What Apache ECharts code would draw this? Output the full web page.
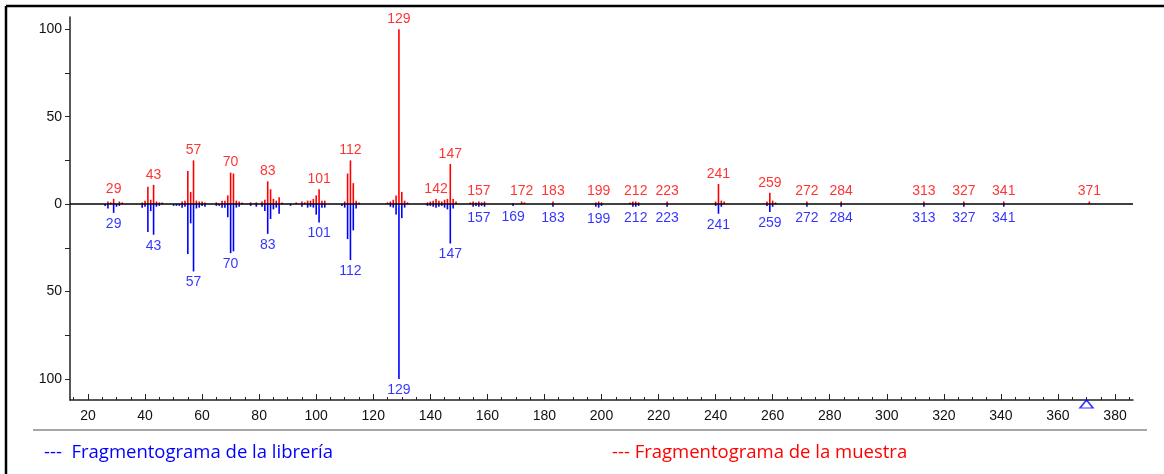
<!DOCTYPE html>
<html>
<head>
<meta charset="utf-8">
<script src="https://cdn.jsdelivr.net/npm/echarts@6/dist/echarts.min.js"></script>
<style>
  html, body { margin: 0; padding: 0; background: #fff; }
  #main { width: 1164px; height: 474px; }
</style>
</head>
<body>
<div id="main"></div>
<script>
// muestra (rojo, hacia arriba)
const sampleMz = [27, 28, 29, 31, 32, 39, 40, 41, 42, 43, 44, 45, 46, 53, 54, 55, 56, 57, 58, 59, 60, 61,
  65, 67, 68, 69, 70, 71, 72, 73, 74, 77, 79, 81, 82, 83, 84, 85, 86, 87, 88, 93, 95, 96, 97, 98, 99, 100,
  101, 102, 103, 110, 111, 112, 113, 114, 115, 125, 126, 127, 128, 129, 130, 131, 132, 139, 140, 141, 142,
  143, 144, 145, 146, 147, 148, 149, 154, 155, 156, 157, 158, 159, 169, 172, 173, 183, 198, 199, 200, 210,
  211, 212, 213, 223, 240, 241, 242, 243, 258, 259, 260, 261, 272, 284, 313, 327, 341, 371];
const sampleInt = [1.5, 1, 3, 1.5, 1, 1, 2, 10, 2.5, 11, 1.5, 1, 1, 1.5, 2, 19, 7, 25, 2, 1.5, 1.5, 1,
  1, 2, 2, 5, 18, 17.5, 2, 1.5, 1, 1, 1, 1.5, 2.5, 13, 8.5, 3, 2, 4, 1, 1, 1.5, 1, 2, 2, 3, 5,
  8.5, 2, 2, 1.5, 17.5, 25, 12, 2, 1, 1, 1.5, 2.5, 5, 100, 7, 2, 1, 1, 1.5, 2, 3,
  2, 1.5, 2.5, 3, 23, 3, 1.5, 1, 1.5, 1, 1.5, 1, 1.5, 0.5, 1.5, 1, 1.5, 1, 1.5, 1, 1,
  1.5, 1.5, 1, 1.5, 1.5, 11.5, 2, 1.5, 1.5, 6.5, 2, 1, 1.5, 1.5, 1.5, 1.5, 1.5, 1.5];
const sampleLabels = [29, 43, 57, 70, 83, 101, 112, 129, 142, 147, 157, 172, 183, 199, 212, 223, 241, 259,
  272, 284, 313, 327, 341, 371];

// librería (azul, hacia abajo)
const libraryMz = [26, 27, 29, 30, 31, 39, 40, 41, 42, 43, 44, 45, 50, 51, 52, 53, 54, 55, 56, 57, 58, 59,
  60, 61, 65, 66, 67, 68, 69, 70, 71, 72, 73, 77, 79, 81, 82, 83, 84, 85, 86, 87, 91, 95, 97, 98, 99, 100,
  101, 102, 103, 109, 110, 111, 112, 113, 114, 126, 127, 128, 129, 130, 131, 139, 140, 141, 142, 143, 144,
  145, 146, 147, 148, 155, 156, 157, 158, 159, 169, 183, 198, 199, 200, 211, 212, 213, 223, 240, 241, 242,
  258, 259, 260, 272, 284, 313, 327, 341];
const libraryInt = [1, 2.5, 5, 1.5, 1, 2, 1.5, 16, 4, 17.5, 1.5, 1, 1, 1, 1, 2, 1.5, 28.5, 11, 38.5, 2.5, 2,
  1, 1.5, 1, 1, 2, 2, 7.5, 28, 27, 2, 1.5, 1, 1.5, 1.5, 4, 17, 8.5, 3, 2, 5.5, 1, 1.5, 2, 1.5, 2, 6,
  10.5, 2, 2, 1, 2, 20, 32, 15, 2.5, 1.5, 2, 6, 100, 8, 2, 1, 1, 1.5, 2, 1.5, 1,
  2, 3, 22.5, 2.5, 1.5, 1, 1.5, 1, 1.5, 1, 1.5, 1.5, 2, 1, 1.5, 1.5, 1, 1.5, 1, 5.5, 1.5,
  1, 4.5, 1.5, 1.5, 1.5, 1.5, 1.5, 1.5];
const libraryLabels = [29, 43, 57, 70, 83, 101, 112, 129, 147, 157, 169, 183, 199, 212, 223, 241, 259,
  272, 284, 313, 327, 341];

const xLabelTicks = [20, 40, 60, 80, 100, 120, 140, 160, 180, 200, 220, 240, 260, 280, 300, 320, 340, 360, 380];
const xMinorTicks = [];
for (let v = 15; v <= 385; v += 5) if (v % 20 !== 0) xMinorTicks.push(v);
const yLabelTicks = [-100, -50, 0, 50, 100];
const yTicks = [-100, -75, -50, -25, 0, 25, 50, 75, 100];
const markerMz = [370];

const RED = '#ff0000';
const BLUE = '#0000ff';
const FONT = '"Liberation Sans", Arial, sans-serif';

const samplePts = sampleMz.map((m, i) => [m, sampleInt[i]]);
const libraryPts = libraryMz.map((m, i) => [m, -libraryInt[i]]);
const sampleLabelPts = sampleLabels.map(m => [m, sampleInt[sampleMz.indexOf(m)]]);
const libraryLabelPts = libraryLabels.map(m => [m, -libraryInt[libraryMz.indexOf(m)]]);

function stick(color) {
  return function (params, api) {
    const x = api.value(0);
    const p0 = api.coord([x, 0]);
    const p1 = api.coord([x, api.value(1)]);
    return {
      type: 'line',
      shape: { x1: p0[0], y1: p0[1], x2: p1[0], y2: p1[1] },
      style: { stroke: color, lineWidth: 1.6 }
    };
  };
}

const chart = echarts.init(document.getElementById('main'));
chart.setOption({
  animation: false,
  backgroundColor: '#fff',
  grid: { left: 70, right: 31, top: 17, bottom: 74 },
  xAxis: [{
    type: 'value', min: 13.7, max: 386.3,
    axisLine: { show: true, onZero: false, lineStyle: { color: '#222', width: 1.5 } },
    axisTick: { show: true, inside: true, length: 6, customValues: xLabelTicks, lineStyle: { color: '#222' } },
    axisLabel: { customValues: xLabelTicks, margin: 9, color: '#111', fontSize: 14, fontFamily: FONT },
    splitLine: { show: false }
  }, {
    type: 'value', min: 13.7, max: 386.3, position: 'bottom',
    axisLine: { show: false, onZero: false },
    axisTick: { show: true, inside: true, length: 3, customValues: xMinorTicks, lineStyle: { color: '#222' } },
    axisLabel: { show: false },
    splitLine: { show: false }
  }],
  yAxis: {
    type: 'value', min: -112, max: 107,
    axisLine: { show: true, onZero: false, lineStyle: { color: '#222', width: 1.5 } },
    axisTick: { show: true, length: 5, customValues: yTicks, lineStyle: { color: '#222' } },
    axisLabel: {
      customValues: yLabelTicks, margin: 8, color: '#111', fontSize: 14, fontFamily: FONT,
      formatter: v => String(Math.abs(v))
    },
    splitLine: { show: false }
  },
  series: [
    {
      name: 'Fragmentograma de la librería', type: 'custom', renderItem: stick(BLUE),
      data: libraryPts, z: 2
    },
    {
      name: 'Fragmentograma de la muestra', type: 'custom', renderItem: stick(RED),
      data: samplePts, z: 3
    },
    {
      type: 'scatter', data: sampleLabelPts, symbolSize: 0.1, silent: true, clip: false,
      itemStyle: { color: RED },
      label: {
        show: true, position: 'top', distance: 3, color: RED, fontSize: 14, fontFamily: FONT,
        formatter: p => p.value[0]
      },
      markLine: {
        silent: true, symbol: 'none', label: { show: false },
        lineStyle: { color: '#000', width: 1.5, type: 'solid' },
        data: [{ yAxis: 0 }]
      },
      z: 4
    },
    {
      type: 'scatter', data: libraryLabelPts, symbolSize: 0.1, silent: true, clip: false,
      itemStyle: { color: BLUE },
      label: {
        show: true, position: 'bottom', distance: 4, color: BLUE, fontSize: 14, fontFamily: FONT,
        formatter: p => p.value[0]
      },
      z: 4
    },
    {
      type: 'scatter', data: markerMz.map(m => [m, -112]), clip: false, silent: true,
      symbol: 'triangle', symbolSize: [13, 8], symbolOffset: [0, 4],
      itemStyle: { color: 'rgba(0,0,0,0)', borderColor: BLUE, borderWidth: 1.5 },
      z: 5
    }
  ],
  graphic: [
    { type: 'line', shape: { x1: 6, y1: 6, x2: 1164, y2: 6 }, style: { stroke: '#000', lineWidth: 2.5 } },
    { type: 'line', shape: { x1: 6, y1: 6, x2: 6, y2: 474 }, style: { stroke: '#000', lineWidth: 2.5 } },
    { type: 'line', shape: { x1: 33, y1: 430, x2: 1147, y2: 430 }, style: { stroke: '#888', lineWidth: 1.5 } },
    {
      type: 'text', left: 44, top: 443,
      style: { text: '---  Fragmentograma de la librería', fill: BLUE, font: '18.5px "Open Sans"' }
    },
    {
      type: 'text', left: 612, top: 443,
      style: { text: '--- Fragmentograma de la muestra', fill: RED, font: '18.5px "Open Sans"' }
    }
  ]
});
</script>
</body>
</html>
